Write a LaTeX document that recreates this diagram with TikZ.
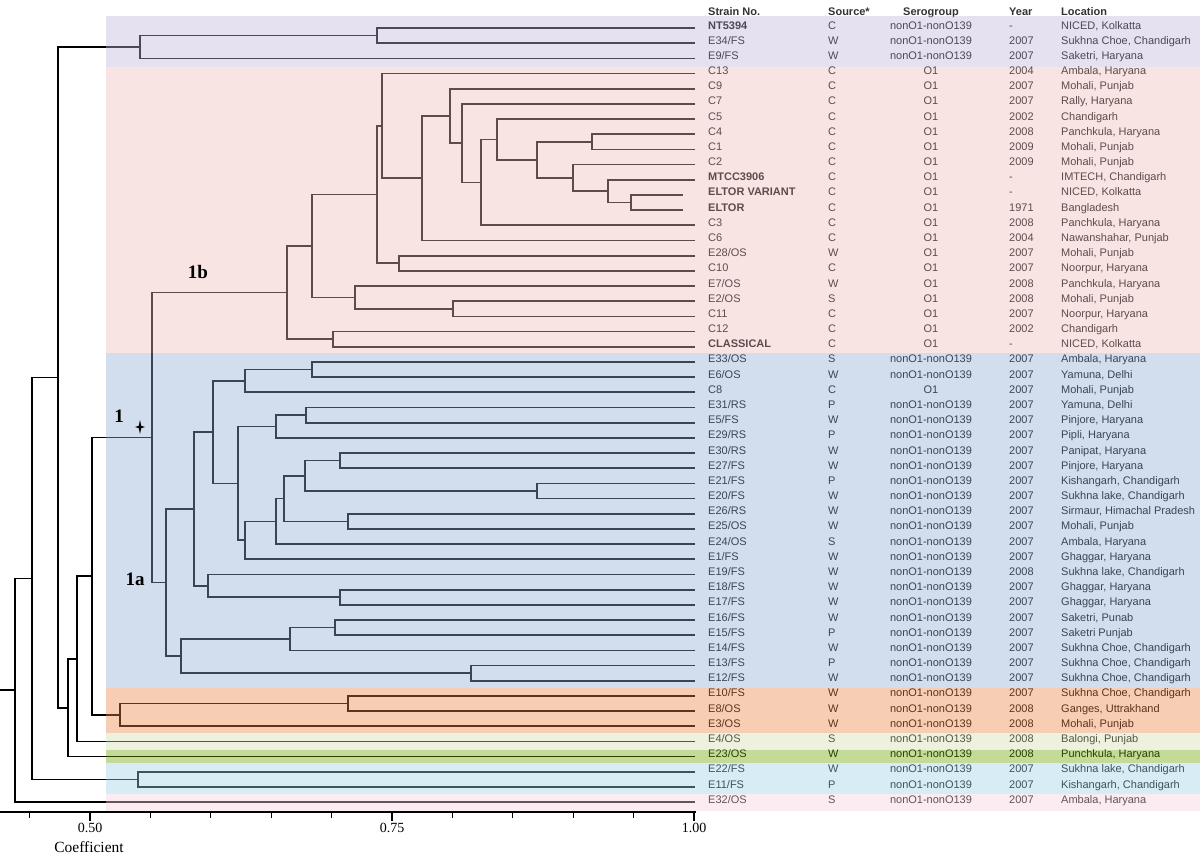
\documentclass[tikz,border=0pt]{standalone}
\usepackage{fontspec}
\setmainfont{Liberation Sans}
\newfontfamily\cladefont{Liberation Serif}
\usetikzlibrary{calc}

\definecolor{bandpurple}{RGB}{193,180,218}
\definecolor{bandpink}{RGB}{240,188,188}
\definecolor{bandblue}{RGB}{143,173,213}
\definecolor{bandorange}{RGB}{235,130,68}
\definecolor{bandlime}{RGB}{208,223,173}
\definecolor{bandgreen}{RGB}{105,163,0}
\definecolor{bandcyan}{RGB}{155,208,228}
\definecolor{bandrose}{RGB}{243,208,218}

\newcommand{\joinclade}[4]{%
  \path ($(#3)!.5!(#4)$) coordinate (m#1);
  \coordinate (#1) at (#2,0 |- m#1);
  \draw[branch] (#3) -| (#1) |- (#4);
}

\begin{document}
\begin{tikzpicture}[
  x=1pt, y=-1pt,
  rows/.style={y=-15.18pt, yshift=-12.82pt},
  branch/.style={draw=black, line width=1.7pt},
  strain/.style={anchor=base west, inner sep=0pt, yshift=-1pt, font=\fontsize{11}{13}\selectfont},
  head/.style={anchor=base west, inner sep=0pt, text=black!80, font=\fontsize{11}{13}\selectfont\bfseries},
  band/.style={opacity=0.4},
  clade/.style={inner sep=0pt, font=\cladefont\fontsize{19}{21}\selectfont\bfseries},
  tick/.style={draw=black, line width=1.3pt},
  ticklabel/.style={inner sep=0pt, font=\cladefont\fontsize{14}{16}\selectfont}
]
\fill[white] (0,0) rectangle (1200,862);
\useasboundingbox (0,0) rectangle (1200,862);

\node[head] (hstrain) at (708,15.5) {Strain No.};
\node[head] (hsource) at (828,15.5) {Source*};
\node[head, anchor=base] (hsero) at (931,15.5) {Serogroup};
\node[head] (hyear) at (1009,15.5) {Year};
\node[head] (hloc) at (1061,15.5) {Location};

\begin{scope}[rows]
\foreach \strainid/\src/\sero/\yr/\loc [count=\k] in {
  {\bfseries NT5394}/C/nonO1-nonO139/-/{NICED, Kolkatta},
  {E34/FS}/W/nonO1-nonO139/2007/{Sukhna Choe, Chandigarh},
  {E9/FS}/W/nonO1-nonO139/2007/{Saketri, Haryana},
  C13/C/O1/2004/{Ambala, Haryana},
  C9/C/O1/2007/{Mohali, Punjab},
  C7/C/O1/2007/{Rally, Haryana},
  C5/C/O1/2002/Chandigarh,
  C4/C/O1/2008/{Panchkula, Haryana},
  C1/C/O1/2009/{Mohali, Punjab},
  C2/C/O1/2009/{Mohali, Punjab},
  {\bfseries MTCC3906}/C/O1/-/{IMTECH, Chandigarh},
  {\bfseries ELTOR VARIANT}/C/O1/-/{NICED, Kolkatta},
  {\bfseries ELTOR}/C/O1/1971/Bangladesh,
  C3/C/O1/2008/{Panchkula, Haryana},
  C6/C/O1/2004/{Nawanshahar, Punjab},
  {E28/OS}/W/O1/2007/{Mohali, Punjab},
  C10/C/O1/2007/{Noorpur, Haryana},
  {E7/OS}/W/O1/2008/{Panchkula, Haryana},
  {E2/OS}/S/O1/2008/{Mohali, Punjab},
  C11/C/O1/2007/{Noorpur, Haryana},
  C12/C/O1/2002/Chandigarh,
  {\bfseries CLASSICAL}/C/O1/-/{NICED, Kolkatta},
  {E33/OS}/S/nonO1-nonO139/2007/{Ambala, Haryana},
  {E6/OS}/W/nonO1-nonO139/2007/{Yamuna, Delhi},
  C8/C/O1/2007/{Mohali, Punjab},
  {E31/RS}/P/nonO1-nonO139/2007/{Yamuna, Delhi},
  {E5/FS}/W/nonO1-nonO139/2007/{Pinjore, Haryana},
  {E29/RS}/P/nonO1-nonO139/2007/{Pipli, Haryana},
  {E30/RS}/W/nonO1-nonO139/2007/{Panipat, Haryana},
  {E27/FS}/W/nonO1-nonO139/2007/{Pinjore, Haryana},
  {E21/FS}/P/nonO1-nonO139/2007/{Kishangarh, Chandigarh},
  {E20/FS}/W/nonO1-nonO139/2007/{Sukhna lake, Chandigarh},
  {E26/RS}/W/nonO1-nonO139/2007/{Sirmaur, Himachal Pradesh},
  {E25/OS}/W/nonO1-nonO139/2007/{Mohali, Punjab},
  {E24/OS}/S/nonO1-nonO139/2007/{Ambala, Haryana},
  {E1/FS}/W/nonO1-nonO139/2007/{Ghaggar, Haryana},
  {E19/FS}/W/nonO1-nonO139/2008/{Sukhna lake, Chandigarh},
  {E18/FS}/W/nonO1-nonO139/2007/{Ghaggar, Haryana},
  {E17/FS}/W/nonO1-nonO139/2007/{Ghaggar, Haryana},
  {E16/FS}/W/nonO1-nonO139/2007/{Saketri, Punab},
  {E15/FS}/P/nonO1-nonO139/2007/{Saketri Punjab},
  {E14/FS}/W/nonO1-nonO139/2007/{Sukhna Choe, Chandigarh},
  {E13/FS}/P/nonO1-nonO139/2007/{Sukhna Choe, Chandigarh},
  {E12/FS}/W/nonO1-nonO139/2007/{Sukhna Choe, Chandigarh},
  {E10/FS}/W/nonO1-nonO139/2007/{Sukhna Choe, Chandigarh},
  {E8/OS}/W/nonO1-nonO139/2008/{Ganges, Uttrakhand},
  {E3/OS}/W/nonO1-nonO139/2008/{Mohali, Punjab},
  {E4/OS}/S/nonO1-nonO139/2008/{Balongi, Punjab},
  {E23/OS}/W/nonO1-nonO139/2008/{Punchkula, Haryana},
  {E22/FS}/W/nonO1-nonO139/2007/{Sukhna lake, Chandigarh},
  {E11/FS}/P/nonO1-nonO139/2007/{Kishangarh, Chandigarh},
  {E32/OS}/S/nonO1-nonO139/2007/{Ambala, Haryana}} {
  \coordinate (l\k) at (695,\k);
  \node[strain] (s\k) at (708,\k) {\strainid};
  \node[strain] (src\k) at (828,\k) {\src};
  \node[strain, anchor=base] (sero\k) at (931,\k) {\sero};
  \node[strain] (yr\k) at (1009,\k) {\yr};
  \node[strain] (loc\k) at (1061,\k) {\loc};
}
\coordinate (l12) at (683,12);
\coordinate (l13) at (683,13);

\joinclade{pA}{377}{l1}{l2}
\joinclade{pB}{140}{pA}{l3}

\joinclade{eltor}{631}{l12}{l13}
\joinclade{mtcc}{608}{l11}{eltor}
\joinclade{ctwo}{573}{l10}{mtcc}
\joinclade{cfour}{592}{l8}{l9}
\joinclade{cone}{537}{cfour}{ctwo}
\joinclade{cfive}{497}{l7}{cone}
\joinclade{cthree}{481}{cfive}{l14}
\joinclade{cseven}{462}{l6}{cthree}
\joinclade{cnine}{450}{l5}{cseven}
\joinclade{csix}{422}{cnine}{l15}
\joinclade{cthirteen}{382}{l4}{csix}
\joinclade{etwoeight}{399}{l16}{l17}
\joinclade{ocore}{377}{cthirteen}{etwoeight}
\joinclade{etwo}{453}{l19}{l20}
\joinclade{eseven}{355}{l18}{etwo}
\joinclade{olarge}{312}{ocore}{eseven}
\joinclade{classic}{333}{l21}{l22}
\joinclade{oneb}{287}{olarge}{classic}

\joinclade{ethreethree}{312}{l23}{l24}
\joinclade{ceight}{245}{ethreethree}{l25}
\joinclade{ethreeone}{306}{l26}{l27}
\joinclade{etwonine}{276}{ethreeone}{l28}
\joinclade{ethirty}{340}{l29}{l30}
\joinclade{etwoone}{537}{l31}{l32}
\joinclade{ma}{305}{ethirty}{etwoone}
\joinclade{etwosix}{348}{l33}{l34}
\joinclade{mb}{284}{ma}{etwosix}
\joinclade{etwofour}{276}{mb}{l35}
\joinclade{eone}{245}{etwofour}{l36}
\joinclade{mc}{238}{etwonine}{eone}
\joinclade{md}{213}{ceight}{mc}
\joinclade{eoneeight}{340}{l38}{l39}
\joinclade{eonenine}{208}{l37}{eoneeight}
\joinclade{me}{194}{md}{eonenine}
\joinclade{eonesix}{335}{l40}{l41}
\joinclade{eonefour}{290}{eonesix}{l42}
\joinclade{eonethree}{471}{l43}{l44}
\joinclade{mf}{181}{eonefour}{eonethree}
\joinclade{onea}{166}{me}{mf}
\joinclade{one}{152}{oneb}{onea}

\joinclade{eten}{348}{l45}{l46}
\joinclade{ethree}{120}{eten}{l47}
\joinclade{ra}{92}{one}{ethree}
\joinclade{rb}{77}{ra}{l48}
\joinclade{rc}{68}{rb}{l49}
\joinclade{rd}{58}{pB}{rc}
\joinclade{etwotwo}{138}{l50}{l51}
\joinclade{re}{32}{rd}{etwotwo}
\joinclade{root}{15}{re}{l52}
\coordinate (stub) at (0,0 |- root);
\draw[branch] (root) -- (stub);
\end{scope}

\fill[band, bandpurple] (106,16) rectangle (1200,67);
\fill[band, bandpink] (106,67) rectangle (1200,353);
\fill[band, bandblue] (106,353) rectangle (1200,688);
\fill[band, bandorange] (106,688) rectangle (1200,733);
\fill[band, bandlime] (106,733) rectangle (1200,750);
\fill[band, bandgreen] (106,750) rectangle (1200,763);
\fill[band, bandcyan] (106,763) rectangle (1200,794);
\fill[band, bandrose] (106,794) rectangle (1200,811);

\node[clade] (lab1b) at (198,272) {1b};
\node[clade] (lab1) at (119,416) {1};
\node[clade] (lab1a) at (135,579) {1a};
\coordinate (marker) at (140,427);
\fill (marker) +(0,-7) -- +(1.2,-1.2) -- +(5,0) -- +(1.2,1.2) -- +(0,7)
  -- +(-1.2,1.2) -- +(-5,0) -- +(-1.2,-1.2) -- cycle;

\coordinate (axstart) at (0,812);
\coordinate (axend) at (696,812);
\draw[tick] (axstart) -- (axend);
\foreach \k in {0,2,3,4,5,7,8,9,10} {
  \draw[tick] (29.6+60.4*\k,812) -- ++(0,6);
}
\foreach \k/\lab in {1/0.50, 6/0.75, 11/1.00} {
  \draw[tick] (29.6+60.4*\k,812) -- ++(0,9);
  \node[ticklabel] (tick\k) at (29.6+60.4*\k,828) {\lab};
}
\node[ticklabel, font=\cladefont\fontsize{15.5}{17}\selectfont] (coef) at (89,847) {Coefficient};
\end{tikzpicture}
\end{document}
